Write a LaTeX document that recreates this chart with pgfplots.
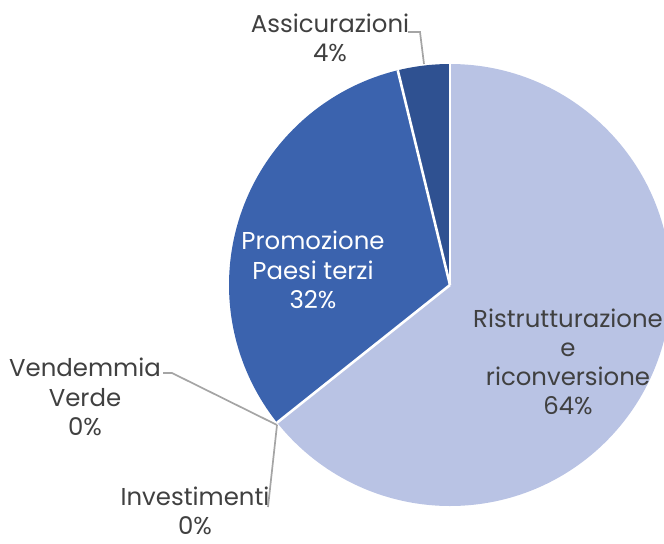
\documentclass[border=0pt]{standalone}
\usepackage{pgfplots}
\pgfplotsset{compat=1.18}
\usepackage{pgfplotstable}
\usepackage{fontspec}
\setmainfont{Poppins}
\definecolor{cRis}{HTML}{B9C3E4}
\definecolor{cPro}{HTML}{3B63AE}
\definecolor{cAss}{HTML}{2F5191}
\definecolor{cTxt}{HTML}{404040}
\definecolor{cLead}{HTML}{A5A5A5}
\tikzset{lbl/.style={font=\fontsize{12.2pt}{14.6pt}\selectfont, align=center, text=cTxt, inner sep=0pt}}
\pgfplotstableread{
name value
Ristrutturazione 64.3
Investimenti 0
Vendemmia 0
Promozione 31.9
Assicurazioni 3.8
}\piedata
\begin{document}
\begin{tikzpicture}
\pgfplotstablegetelem{0}{value}\of\piedata \let\vA\pgfplotsretval
\pgfplotstablegetelem{3}{value}\of\piedata \let\vB\pgfplotsretval
\pgfplotstablegetelem{4}{value}\of\piedata \let\vC\pgfplotsretval
\pgfmathsetmacro\aO{90}
\pgfmathsetmacro\aA{90-3.6*\vA}
\pgfmathsetmacro\aB{\aA-3.6*\vB}
\pgfmathsetmacro\aC{\aB-3.6*\vC}
\def\R{110.5pt}
\begin{axis}[
  x=0.5pt, y=0.5pt,
  xmin=0, xmax=664, ymin=0, ymax=543,
  hide axis, clip=false,
]
\coordinate (ll) at (axis cs:0,0);
\coordinate (ur) at (axis cs:664,543);
\coordinate (c) at (axis cs:450,258);
\fill[cRis] (c) -- ++(\aO:\R) arc[start angle=\aO, end angle=\aA, radius=\R] -- cycle;
\fill[cPro] (c) -- ++(\aA:\R) arc[start angle=\aA, end angle=\aB, radius=\R] -- cycle;
\fill[cAss] (c) -- ++(\aB:\R) arc[start angle=\aB, end angle=\aC, radius=\R] -- cycle;
\draw[white, line width=1.3pt] (c) -- ++(\aO:\R);
\draw[white, line width=1.3pt] (c) -- ++(\aA:\R);
\draw[white, line width=1.3pt] (c) -- ++(\aB:\R);
\draw[cLead, line width=0.85pt] (axis cs:408,511) -- (axis cs:420,511) -- (axis cs:424,479);
\draw[cLead, line width=0.85pt] (axis cs:163,170) -- (axis cs:172,170) -- (axis cs:277,118);
\draw[cLead, line width=0.85pt] (axis cs:277,118) -- (axis cs:268,36);
\node[lbl] at (axis cs:330,505) {Assicurazioni\\4\%};
\node[lbl] at (axis cs:85,146) {Vendemmia\\Verde\\0\%};
\node[lbl] at (axis cs:195,32) {Investimenti\\0\%};
\node[lbl, text=white] at (axis cs:313,273) {Promozione\\Paesi terzi\\32\%};
\node[lbl] at (axis cs:568,181) {Ristrutturazione\\e\\riconversione\\64\%};
\end{axis}
\pgfresetboundingbox
\useasboundingbox (ll) rectangle (ur);
\end{tikzpicture}
\end{document}
